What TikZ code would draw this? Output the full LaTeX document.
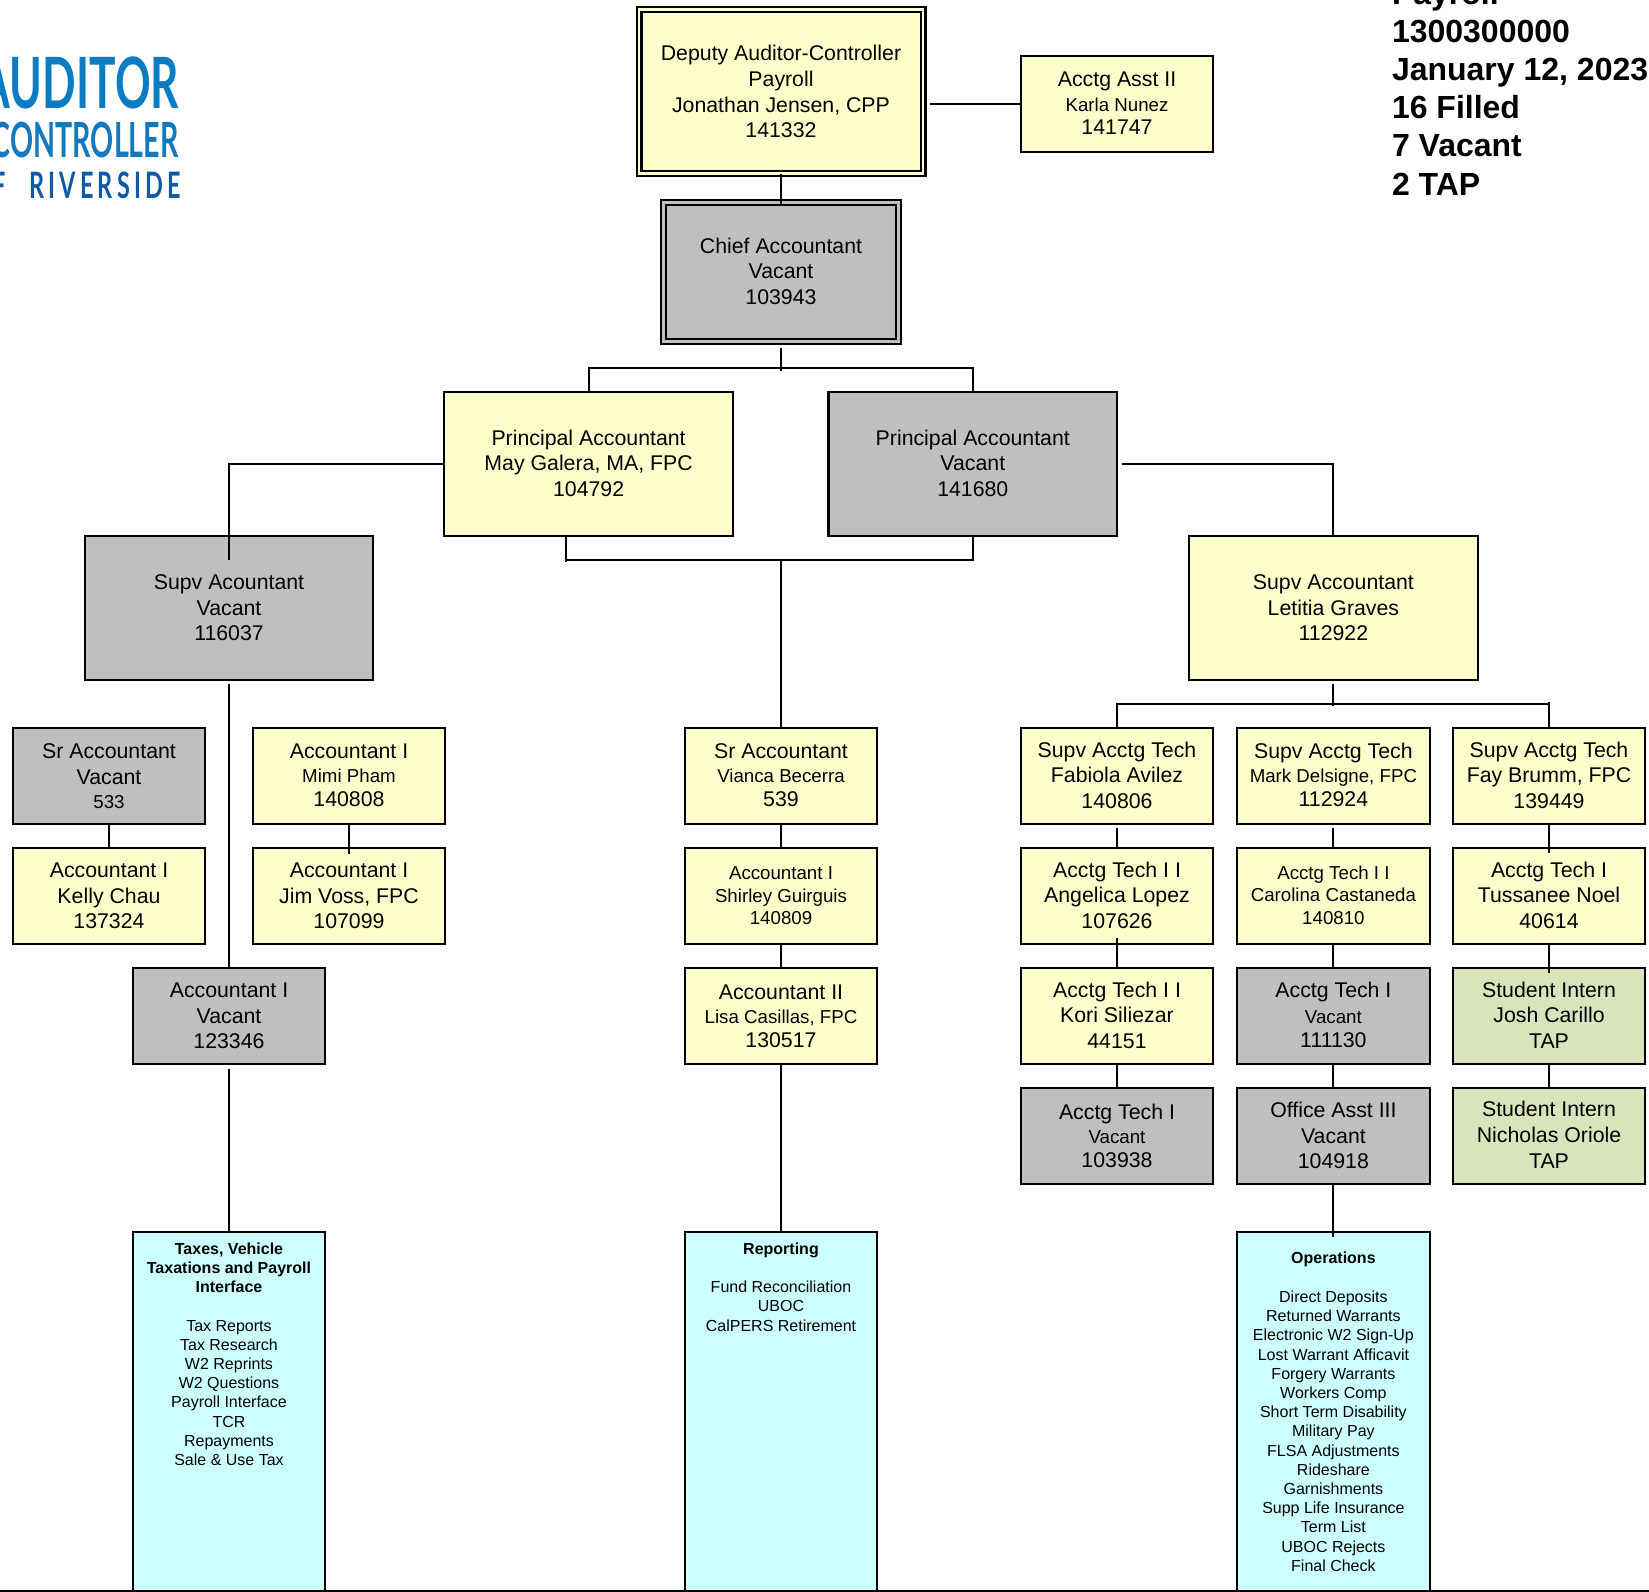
\documentclass[tikz,border=0pt]{standalone}
\usepackage{graphicx}
\usepackage{fontspec}
\setmainfont{Liberation Sans}
\newfontfamily\logofont{Lato}
\definecolor{yel}{HTML}{FFFFCC}
\definecolor{gry}{HTML}{BFBFBF}
\definecolor{grn}{HTML}{D8E4BC}
\definecolor{cya}{HTML}{CCFFFF}
\definecolor{logoa}{HTML}{0A7CC4}
\definecolor{logob}{HTML}{1279BE}
\definecolor{logoc}{HTML}{1158A6}
\newcommand{\smtxt}[1]{{\fontsize{18.7}{25.6}\selectfont #1}}
\newcommand{\lft}{\rule[-2pt]{0pt}{2pt}}
\tikzset{
  orgbox/.style={draw=black,line width=2.2pt,inner sep=0pt,outer sep=0pt,align=center,
    font=\fontsize{21.3}{25.6}\selectfont},
  smallbox/.style={orgbox,minimum width=192.4pt,minimum height=96pt},
  bigbox/.style={orgbox,minimum width=288.5pt,minimum height=144pt},
  lessfont/.style={font=\fontsize{18.7}{22.5}\selectfont},
  yl/.style={fill=yel},
  gy/.style={fill=gry},
  gn/.style={fill=grn},
  dbl/.style={line width=2.2pt,double distance=2.6pt},
  bluebox/.style={draw=black,line width=2.2pt,fill=cya,inner sep=0pt,outer sep=0pt,minimum width=192.4pt,anchor=north},
  bluetext/.style={inner sep=0pt,outer sep=0pt,anchor=north,align=center,font=\fontsize{16}{19.2}\selectfont},
  wire/.style={draw=black,line width=2pt},
  logotxt/.style={inner sep=0pt,outer sep=0pt,anchor=south west},
}
\begin{document}
\begin{tikzpicture}[x=1pt,y=-1pt]
\path[use as bounding box,clip] (0,0) rectangle (1649,1592);
\fill[white] (0,0) rectangle (1649,1592);

% logo
\node[logotxt,text=logoa] (lga) at (-20,109.5) {\resizebox{199pt}{51.7pt}{\logofont\bfseries AUDITOR}};
\node[logotxt,text=logob] (lgb) at (-8,157.7) {\resizebox{186.5pt}{35.4pt}{\logofont\bfseries CONTROLLER}};
\node[logotxt,text=logoc] (lgc) at (-7,198.3) {\resizebox{188pt}{26.6pt}{\logofont\bfseries\addfontfeature{LetterSpace=18}F\hspace{0.55em} RIVERSIDE}};

% heading
\node[inner sep=0pt,outer sep=0pt,anchor=north west,align=left,
  font=\fontsize{32}{38.2}\selectfont\bfseries] (head) at (1392,-19)
  {Payroll\\1300300000\\January 12, 2023\\16 Filled\\7 Vacant\\2 TAP};

% top
\node[orgbox,yl,dbl,double=yel,minimum width=284pt,minimum height=164pt] (deputy) at (781,91.7)
  {Deputy Auditor-Controller\\Payroll\\Jonathan Jensen, CPP\\141332};
\node[smallbox,yl] (asst) at (1117,104)
  {Acctg Asst II\\[-1.2pt]\smtxt{Karla Nunez}\\[-2.6pt]141747\lft};
\node[orgbox,gy,dbl,double=gry,minimum width=235.5pt,minimum height=139.3pt] (chief) at (781,272)
  {Chief Accountant\\Vacant\\103943\lft};
\node[bigbox,yl] (pl) at (588.6,464) {Principal Accountant\\May Galera, MA, FPC\\104792\lft};
\node[bigbox,gy] (pr) at (972.8,464) {Principal Accountant\\Vacant\\141680\lft};
\node[bigbox,gy] (sa) at (229,608) {Supv Acountant\\Vacant\\116037};
\node[bigbox,yl] (sb) at (1333.4,608) {Supv Accountant\\Letitia Graves\\112922};

% left column
\node[smallbox,gy] (srv) at (109,776) {Sr Accountant\\Vacant\\[-1.4pt]\smtxt{533}};
\node[smallbox,yl] (mimi) at (349,776) {Accountant I\\[-1.8pt]\smtxt{Mimi Pham}\\[-1.4pt]140808\lft};
\node[smallbox,yl] (kelly) at (109,896) {Accountant I\\Kelly Chau\\137324};
\node[smallbox,yl] (jim) at (349,896) {Accountant I\\Jim Voss, FPC\\107099};
\node[smallbox,gy] (acv) at (229,1016) {Accountant I\\Vacant\\123346};

% centre column
\node[smallbox,yl] (vianca) at (781,776) {Sr Accountant\\[-1.8pt]\smtxt{Vianca Becerra}\\[-1.4pt]539\lft};
\node[smallbox,yl,lessfont] (shirley) at (781,896) {Accountant I\\Shirley Guirguis\\140809};
\node[smallbox,yl] (lisa) at (781,1016) {Accountant II\\[-1.8pt]\smtxt{Lisa Casillas, FPC}\\[-1.4pt]130517};

% right columns
\node[smallbox,yl] (fabiola) at (1117,776) {Supv Acctg Tech\\Fabiola Avilez\\140806\lft};
\node[smallbox,yl] (mark) at (1333.4,776) {Supv Acctg Tech\\[-1.8pt]\smtxt{Mark Delsigne, FPC}\\[-1.4pt]112924\lft};
\node[smallbox,yl] (fay) at (1549,776) {Supv Acctg Tech\\Fay Brumm, FPC\\139449\lft};
\node[smallbox,yl] (angelica) at (1117,896) {Acctg Tech I I\\Angelica Lopez\\107626\lft};
\node[smallbox,yl,lessfont] (carolina) at (1333.4,896) {Acctg Tech I I\\Carolina Castaneda\\140810\lft};
\node[smallbox,yl] (tussanee) at (1549,896) {Acctg Tech I\\Tussanee Noel\\40614\lft};
\node[smallbox,yl] (kori) at (1117,1016) {Acctg Tech I I\\Kori Siliezar\\44151\lft};
\node[smallbox,gy] (tech1) at (1333.4,1016) {Acctg Tech I\\[0.6pt]\smtxt{Vacant}\\[-1.6pt]111130\lft};
\node[smallbox,gn] (josh) at (1549,1016) {Student Intern\\Josh Carillo\\TAP\lft};
\node[smallbox,gy] (tech2) at (1117,1135.7) {Acctg Tech I\\[-1.4pt]\smtxt{Vacant}\\[-2.4pt]103938};
\node[smallbox,gy] (office) at (1333.4,1135.7) {Office Asst III\\Vacant\\104918};
\node[smallbox,gn] (nicholas) at (1549,1135.7) {Student Intern\\Nicholas Oriole\\TAP\lft};

% blue panels
\node[bluebox,minimum height=359.5pt] (taxes) at (229,1232) {};
\node[bluebox,minimum height=359.5pt] (reporting) at (781,1232) {};
\node[bluebox,minimum height=359.5pt] (operations) at (1333.4,1232) {};
\node[bluetext] (taxestext) at (229,1242.7)
  {\textbf{Taxes, Vehicle}\\\textbf{Taxations and Payroll}\\\textbf{Interface}\\[19.2pt]Tax Reports\\Tax Research\\W2 Reprints\\W2 Questions\\Payroll Interface\\TCR\\Repayments\\Sale \& Use Tax};
\node[bluetext] (reportingtext) at (781,1242.7)
  {\textbf{Reporting}\\[19.2pt]Fund Reconciliation\\UBOC\\CalPERS Retirement};
\node[bluetext] (operationstext) at (1333.4,1251.7)
  {\textbf{Operations}\\[20pt]Direct Deposits\\Returned Warrants\\Electronic W2 Sign-Up\\Lost Warrant Afficavit\\Forgery Warrants\\Workers Comp\\Short Term Disability\\Military Pay\\FLSA Adjustments\\Rideshare\\Garnishments\\Supp Life Insurance\\Term List\\UBOC Rejects\\Final Check};

% connector junctions
\coordinate (busA) at (781,368);
\coordinate (busB) at (781,560);
\coordinate (busBL) at (565.6,560);
\coordinate (busC) at (1333.4,704);
\coordinate (busCR) at (1549,704);
\coordinate (pageL) at (0,1591);
\coordinate (pageR) at (1649,1591);

% connectors
\draw[wire] (deputy.south) -- ([yshift=-2.5pt]chief.north);
\draw[wire] ([xshift=7pt]deputy.east |- asst.west) -- (asst.west);
\draw[wire] ([yshift=-6.7pt]chief.south) -- ([yshift=-2.7pt]busA);
\draw[wire] (pl.north) |- (busA) -| (pr.north);
\draw[wire] (pl.west) -| ([yshift=-24pt]sa.north);
\draw[wire] ([xshift=4.5pt]pr.east) -| (sb.north);
\draw[wire] (busBL |- pl.south) -- ([yshift=-2.3pt]busBL);
\draw[wire] (busBL) -| (pr.south);
\draw[wire] (busB) -- (vianca.north);
\draw[wire] ([yshift=-4pt]sa.south) -- (acv.north);
\draw[wire] ([yshift=-5pt]acv.south) -- (taxes.north);
\draw[wire] (srv.south) -- (kelly.north);
\draw[wire] (mimi.south) -- ([yshift=-6pt]jim.north);
\draw[wire] (vianca.south) -- (shirley.north);
\draw[wire] (shirley.south) -- (lisa.north);
\draw[wire] (lisa.south) -- (reporting.north);
\draw[wire] ([yshift=-4pt]sb.south) -- ([yshift=-2pt]busC);
\draw[wire] (fabiola.north) |- (busCR);
\draw[wire] ([yshift=2pt]busCR) -- (fay.north);
\draw[wire] ([yshift=-4pt]fabiola.south) -- (angelica.north);
\draw[wire] ([yshift=6pt]angelica.south) -- (kori.north);
\draw[wire] (kori.south) -- (tech2.north);
\draw[wire] ([yshift=-4pt]mark.south) -- (carolina.north);
\draw[wire] (carolina.south) -- (tech1.north);
\draw[wire] (tech1.south) -- (office.north);
\draw[wire] (office.south) -- ([yshift=-5pt]operations.north);
\draw[wire] (fay.south) -- ([yshift=-5pt]tussanee.north);
\draw[wire] (tussanee.south) -- ([yshift=-5pt]josh.north);
\draw[wire] (josh.south) -- (nicholas.north);
\draw[wire] (pageL) -- (pageR);
\end{tikzpicture}
\end{document}
